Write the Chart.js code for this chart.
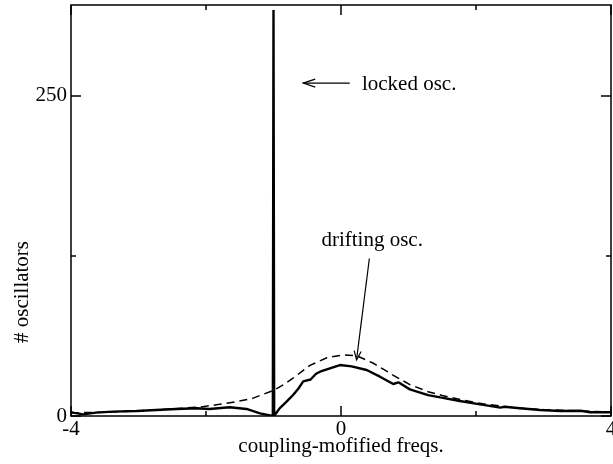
<!DOCTYPE html>
<html lang="en">
<head>
<meta charset="UTF-8">
<title>Oscillator frequency distribution</title>
<script src="https://cdn.jsdelivr.net/npm/chart.js"></script>
<style>
  html, body { margin: 0; padding: 0; background: #fff; }
</style>
</head>
<body>
<canvas id="freqChart" width="613" height="464"></canvas>
<script>
// measured histogram of oscillator frequencies (solid line)
const measuredFreq = [-4.00, -3.95, -3.82, -3.63, -3.38, -3.03, -2.74, -2.44, -2.14, -1.95, -1.65, -1.40, -1.20, -1.05, -1.01,
  -1.00, -0.99, -0.91, -0.81, -0.71, -0.63, -0.56, -0.45, -0.37, -0.31, -0.165, -0.016, 0.157, 0.38, 0.577, 0.774, 0.85,
  1.02, 1.29, 1.47, 1.76, 2.06, 2.36, 2.42, 2.65, 2.95, 3.25, 3.55, 3.69, 4.00];
const measuredCount = [3.0, 2.4, 1.3, 2.6, 3.4, 3.9, 4.7, 5.5, 6.0, 5.5, 6.8, 5.5, 2.1, 0.5, 0,
  317, 0, 6, 11, 16.4, 21.5, 27, 28.5, 33, 34.6, 37.2, 39.8, 38.8, 35.9, 30.7, 25, 26.3,
  20.8, 16.3, 14.5, 11.7, 9.1, 6.5, 7.2, 6, 4.7, 3.9, 4.1, 2.9, 2.9];

// density of the drifting oscillators (dashed line)
const driftFreq = [-4.0, -3.5, -3.0, -2.5, -2.05, -1.8, -1.55, -1.31, -1.2, -1.0, -0.85, -0.7, -0.46, -0.21, 0.03,
  0.23, 0.48, 0.77, 1.02, 1.29, 1.5, 1.8, 2.1, 2.4, 2.7, 3.0, 3.5, 4.0];
const driftCount = [2.5, 3.0, 4.0, 5.5, 7.3, 9.1, 11.2, 13.8, 16, 20, 24.5, 30, 39.5, 45.5, 47.7,
  47.1, 41.2, 32, 24.5, 19, 16, 12.5, 9.5, 7.5, 6, 5, 4, 3];

const xTickLabels = [-4, 0, 4];
const xMinorTicks = [-2, 2];
const yTickLabels = [0, 250];
const yMinorTicks = [125];

const serif = '"Liberation Serif", "Times New Roman", serif';

function drawArrow(ctx, x1, y1, x2, y2, len, half) {
  const ang = Math.atan2(y2 - y1, x2 - x1);
  ctx.beginPath();
  ctx.moveTo(x1, y1);
  ctx.lineTo(x2, y2);
  ctx.stroke();
  const bx = x2 - len * Math.cos(ang), by = y2 - len * Math.sin(ang);
  const px = -Math.sin(ang) * half, py = Math.cos(ang) * half;
  ctx.beginPath();
  ctx.moveTo(bx + px, by + py);
  ctx.lineTo(x2, y2);
  ctx.lineTo(bx - px, by - py);
  ctx.stroke();
}

// box frame, inward ticks, y title and the two annotations
const frameAndNotes = {
  id: 'frameAndNotes',
  afterDatasetsDraw(chart) {
    const { ctx, chartArea: a, scales: { x, y } } = chart;
    ctx.save();
    ctx.strokeStyle = '#000';
    ctx.fillStyle = '#000';
    ctx.lineWidth = 1.5;
    ctx.strokeRect(a.left, a.top, a.right - a.left, a.bottom - a.top);

    const xTicks = (vals, len) => vals.forEach(v => {
      const px = x.getPixelForValue(v);
      ctx.beginPath();
      ctx.moveTo(px, a.bottom); ctx.lineTo(px, a.bottom - len);
      ctx.moveTo(px, a.top); ctx.lineTo(px, a.top + len);
      ctx.stroke();
    });
    const yTicks = (vals, len) => vals.forEach(v => {
      const py = y.getPixelForValue(v);
      ctx.beginPath();
      ctx.moveTo(a.left, py); ctx.lineTo(a.left + len, py);
      ctx.moveTo(a.right, py); ctx.lineTo(a.right - len, py);
      ctx.stroke();
    });
    xTicks(xTickLabels, 10);
    xTicks(xMinorTicks, 5);
    yTicks(yTickLabels, 10);
    yTicks(yMinorTicks, 5);

    ctx.font = '21px ' + serif;
    ctx.textBaseline = 'alphabetic';

    // y axis title
    ctx.save();
    ctx.translate(28, 292);
    ctx.rotate(-Math.PI / 2);
    ctx.textAlign = 'center';
    ctx.fillText('# oscillators', 0, 0);
    ctx.restore();

    ctx.textAlign = 'left';
    ctx.fillText('locked osc.', x.getPixelForValue(0.31), y.getPixelForValue(255));
    ctx.fillText('drifting osc.', x.getPixelForValue(-0.29), y.getPixelForValue(133));

    ctx.lineWidth = 1.2;
    drawArrow(ctx, x.getPixelForValue(0.13), y.getPixelForValue(260),
      x.getPixelForValue(-0.56), y.getPixelForValue(260), 12, 4);
    drawArrow(ctx, x.getPixelForValue(0.42), y.getPixelForValue(123),
      x.getPixelForValue(0.23), y.getPixelForValue(43.8), 9, 3.5);
    ctx.restore();
  }
};

new Chart(document.getElementById('freqChart').getContext('2d'), {
  type: 'line',
  data: {
    datasets: [
      {
        data: measuredFreq.map((f, i) => ({ x: f, y: measuredCount[i] })),
        borderColor: '#000', borderWidth: 2.4, borderJoinStyle: 'bevel',
        pointRadius: 0, tension: 0, fill: false
      },
      {
        data: driftFreq.map((f, i) => ({ x: f, y: driftCount[i] })),
        borderColor: '#000', borderWidth: 1.5, borderDash: [8, 5],
        pointRadius: 0, tension: 0, fill: false
      }
    ]
  },
  options: {
    responsive: false,
    animation: false,
    layout: { padding: { left: 0, right: 2, top: 5, bottom: 0 } },
    plugins: { legend: { display: false }, tooltip: { enabled: false } },
    scales: {
      x: {
        type: 'linear', min: -4, max: 4,
        grid: { display: false, drawTicks: false },
        border: { display: false },
        ticks: { color: '#000', font: { family: serif, size: 21 }, padding: 1, maxRotation: 0 },
        title: {
          display: true, text: 'coupling-mofified freqs.', color: '#000',
          font: { family: serif, size: 21 }, padding: { top: 0, bottom: 5 }
        },
        afterBuildTicks: s => { s.ticks = xTickLabels.map(v => ({ value: v })); },
        afterFit: s => { s.height = 48; s.paddingLeft = 0; s.paddingRight = 0; }
      },
      y: {
        type: 'linear', min: 0, max: 321,
        grid: { display: false, drawTicks: false },
        border: { display: false },
        ticks: { color: '#000', font: { family: serif, size: 21 }, padding: 4 },
        afterBuildTicks: s => { s.ticks = yTickLabels.map(v => ({ value: v })); },
        afterFit: s => { s.width = 71; s.paddingTop = 0; s.paddingBottom = 0; }
      }
    }
  },
  plugins: [frameAndNotes]
});
</script>
</body>
</html>
